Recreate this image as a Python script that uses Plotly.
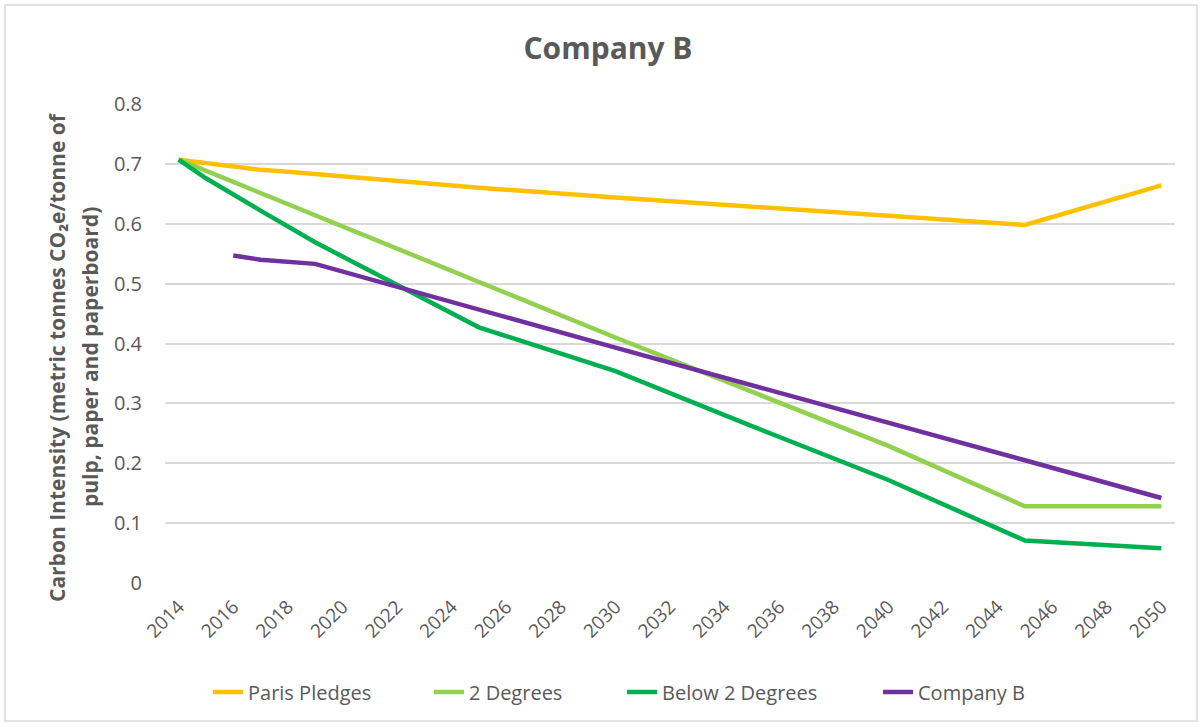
import plotly.graph_objects as go

# Data
paris_years = [2014, 2015, 2016, 2017, 2018, 2019, 2020, 2022, 2025, 2030, 2035, 2040, 2045, 2050]
paris_vals = [0.707, 0.701, 0.695, 0.690, 0.687, 0.683, 0.679, 0.671, 0.660, 0.644, 0.629, 0.613, 0.598, 0.664]

two_deg_years = [2014, 2025, 2030, 2040, 2045, 2050]
two_deg_vals = [0.707, 0.503, 0.410, 0.229, 0.128, 0.128]

below2_years = [2014, 2015, 2017, 2019, 2025, 2030, 2035, 2040, 2045, 2050]
below2_vals = [0.707, 0.676, 0.622, 0.569, 0.427, 0.354, 0.262, 0.172, 0.071, 0.058]

company_years = [2016, 2017, 2019, 2030, 2045, 2050]
company_vals = [0.547, 0.540, 0.533, 0.393, 0.205, 0.142]

tick_years = list(range(2014, 2051, 2))

series = [
    ("Paris Pledges", paris_years, paris_vals, "#FFC000"),
    ("2 Degrees", two_deg_years, two_deg_vals, "#92D050"),
    ("Below 2 Degrees", below2_years, below2_vals, "#00B050"),
    ("Company B", company_years, company_vals, "#7030A0"),
]

title_line1 = "Carbon Intensity (metric tonnes CO₂e/tonne of"
title_line2 = "pulp, paper and paperboard)"

FONT = "Open Sans"
GREY = "#595959"

L, R, T, B = 165, 28, 104, 144
PW, PH = 1203 - L - R, 727 - T - B


def px_x(p):
    return (p - L) / PW


def px_y(p):
    return (727 - B - p) / PH


# legend entry text start positions (pixels) in the reference
legend_text_start = [250, 471, 664, 920]
legend_names = ["legend", "legend2", "legend3", "legend4"]

fig = go.Figure()
for (name, xs, ys, col), lg in zip(series, legend_names):
    fig.add_trace(go.Scatter(x=xs, y=ys, name=name, mode="lines", legend=lg,
                             line=dict(color=col, width=4.5)))

layout_legends = {}
for lg, tx in zip(legend_names, legend_text_start):
    layout_legends[lg] = dict(x=px_x(tx - 42), xanchor="left", y=px_y(692), yanchor="middle",
                              font=dict(family=FONT, size=20, color=GREY),
                              bgcolor="rgba(0,0,0,0)", orientation="h")

fig.update_layout(
    width=1203, height=727,
    paper_bgcolor="white", plot_bgcolor="white",
    margin=dict(l=L, r=R, t=T, b=B),
    title=dict(text="<b>Company B</b>", x=608 / 1203, xanchor="center", y=1 - 48 / 727, yanchor="middle",
               font=dict(family=FONT, size=30, color=GREY)),
    font=dict(family=FONT, color=GREY),
    showlegend=True,
    shapes=[dict(type="rect", xref="paper", yref="paper",
                 x0=px_x(5), x1=px_x(1197), y0=px_y(721), y1=px_y(5),
                 line=dict(color="#D9D9D9", width=1.5), fillcolor="rgba(0,0,0,0)", layer="below")],
    annotations=[
        dict(text="<b>" + title_line1 + "</b>", textangle=-90, xref="paper", yref="paper",
             x=px_x(57), y=px_y(357), xanchor="center", yanchor="middle", showarrow=False,
             font=dict(family=FONT, size=21, color=GREY)),
        dict(text="<b>" + title_line2 + "</b>", textangle=-90, xref="paper", yref="paper",
             x=px_x(90), y=px_y(357), xanchor="center", yanchor="middle", showarrow=False,
             font=dict(family=FONT, size=21, color=GREY)),
    ],
    **layout_legends,
)

fig.update_xaxes(range=[2013.5, 2050.5], tickmode="array", tickvals=tick_years,
                 ticktext=[str(t) for t in tick_years], tickangle=-45,
                 tickfont=dict(family=FONT, size=19, color=GREY),
                 showgrid=False, zeroline=False, showline=False, ticks="", ticklabelstandoff=8)

fig.update_yaxes(range=[0, 0.8], dtick=0.1, tickformat="~g",
                 tickfont=dict(family=FONT, size=20, color=GREY),
                 showgrid=True, gridcolor="#D9D9D9", gridwidth=1.5,
                 zeroline=False, showline=False, ticks="", ticklabelstandoff=22)

fig.write_html("out.html", config={"displayModeBar": False},
               post_script="document.body.style.margin='0';document.body.style.overflow='hidden';")
